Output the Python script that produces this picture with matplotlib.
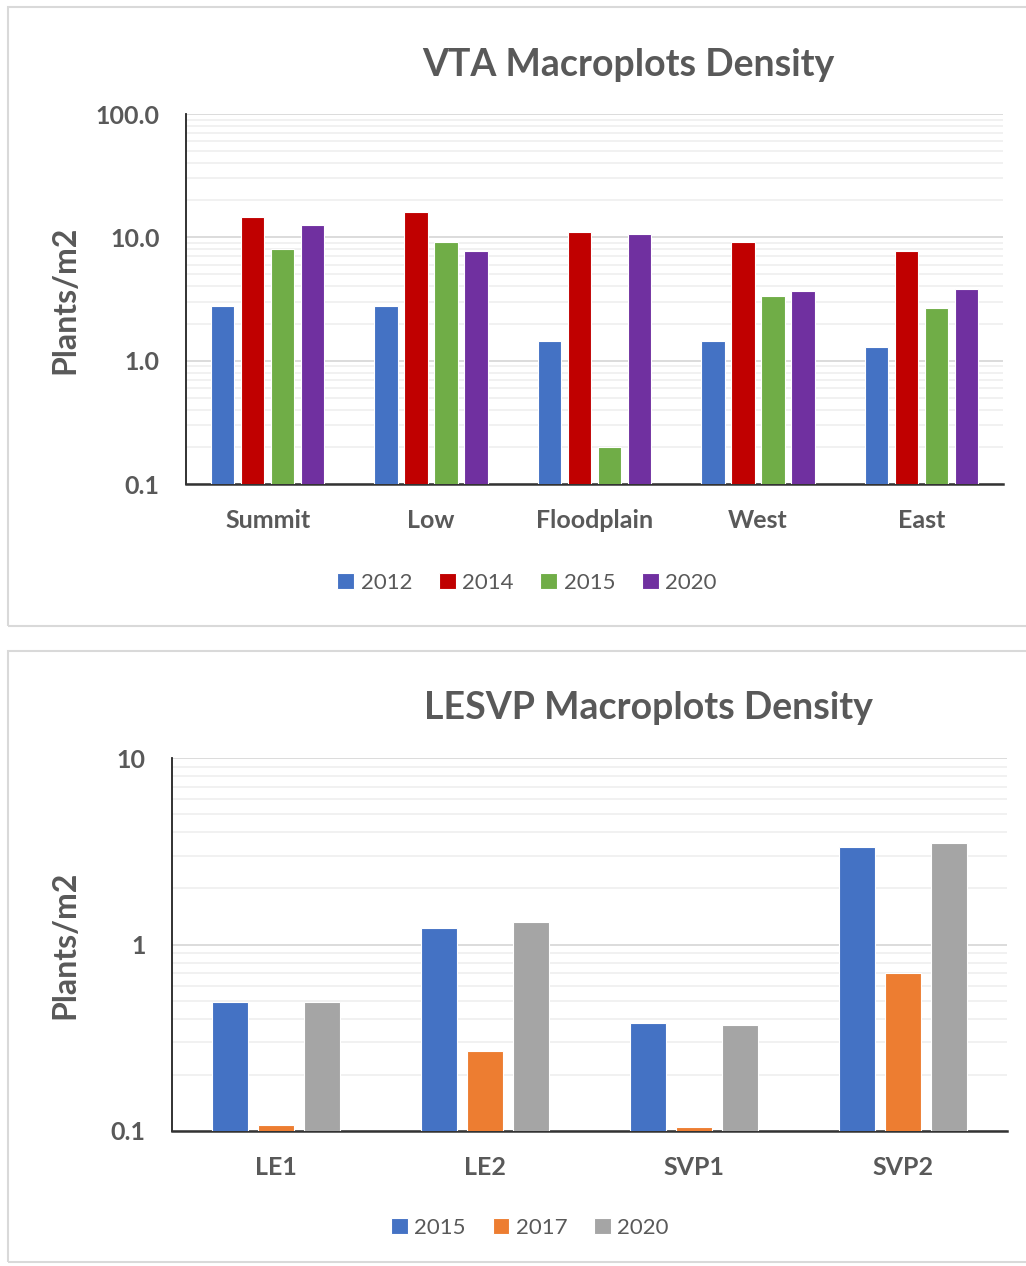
import matplotlib
matplotlib.use('Agg')
import matplotlib.pyplot as plt
import matplotlib.patches as patches
from matplotlib.ticker import FixedLocator, LogLocator, NullFormatter
import numpy as np

plt.rcParams['font.family'] = ['Lato', 'DejaVu Sans']

# VTA data
vta_sites = ['Summit', 'Low', 'Floodplain', 'West', 'East']
vta_years = ['2012', '2014', '2015', '2020']
vta_2012 = [2.8, 2.8, 1.45, 1.45, 1.3]
vta_2014 = [14.7, 16.0, 11.1, 9.1, 7.8]
vta_2015 = [8.1, 9.1, 0.2, 3.35, 2.65]
vta_2020 = [12.6, 7.8, 10.7, 3.65, 3.8]
vta_colors = ['#4472C4', '#C00000', '#70AD47', '#7030A0']

# LESVP data
les_sites = ['LE1', 'LE2', 'SVP1', 'SVP2']
les_years = ['2015', '2017', '2020']
les_2015 = [0.49, 1.23, 0.38, 3.33]
les_2017 = [0.108, 0.268, 0.105, 0.70]
les_2020 = [0.49, 1.32, 0.37, 3.5]
les_colors = ['#4472C4', '#ED7D31', '#A5A5A5']

W, H = 1026, 1266
fig = plt.figure(figsize=(W / 100, H / 100), dpi=100)
txt = '#595959'

# panel frames
for top, bottom in [(7, 626), (651, 1262)]:
    fig.patches.append(patches.Rectangle((8 / W, 1 - bottom / H), 1.2, (bottom - top) / H,
                                         transform=fig.transFigure, fill=False,
                                         edgecolor='#d9d9d9', linewidth=1.5))


def draw_panel(rect, sites, years, series, colors, step, width, ylim, ticks, ticklabels):
    ax = fig.add_axes(rect)
    n = len(series)
    x = np.arange(len(sites))
    ax.set_yscale('log')
    for i, (vals, c, yr) in enumerate(zip(series, colors, years)):
        ax.bar(x + (i - (n - 1) / 2) * step, vals, width, color=c,
               edgecolor='white', linewidth=0.8, label=yr, zorder=3)
    ax.set_ylim(*ylim)
    ax.set_xlim(-0.5, len(sites) - 0.5)
    ax.yaxis.set_major_locator(FixedLocator(ticks))
    ax.set_yticklabels(ticklabels)
    ax.yaxis.set_minor_locator(LogLocator(base=10, subs=np.arange(2, 10)))
    ax.yaxis.set_minor_formatter(NullFormatter())
    ax.grid(True, which='major', axis='y', color='#d9d9d9', linewidth=1.3, zorder=0)
    ax.grid(True, which='minor', axis='y', color='#eeeeee', linewidth=1.1, zorder=0)
    ax.set_xticks(x)
    ax.set_xticklabels(sites)
    for s in ['top', 'right']:
        ax.spines[s].set_visible(False)
    ax.spines['left'].set_color('#222222')
    ax.spines['bottom'].set_color('#333333')
    ax.spines['left'].set_linewidth(1.3)
    ax.spines['bottom'].set_linewidth(1.8)
    ax.tick_params(axis='both', which='both', length=0, colors=txt)
    ax.tick_params(axis='y', pad=19, labelsize=18)
    ax.tick_params(axis='x', pad=18, labelsize=18)
    for lab in ax.get_xticklabels() + ax.get_yticklabels():
        lab.set_fontweight('bold')
    return ax


ax1 = draw_panel([186 / W, 1 - 484 / H, 817 / W, 370 / H], vta_sites, vta_years,
                 [vta_2012, vta_2014, vta_2015, vta_2020], vta_colors,
                 0.1836, 0.142, (0.1, 100), [0.1, 1, 10, 100],
                 ['0.1', '1.0', '10.0', '100.0'])
ax2 = draw_panel([172 / W, 1 - 1131 / H, 835 / W, 373 / H], les_sites, les_years,
                 [les_2015, les_2017, les_2020], les_colors,
                 0.22, 0.172, (0.1, 10), [0.1, 1, 10],
                 ['0.1', '1', '10'])

# titles
fig.text(628 / W, 1 - 65 / H, 'VTA Macroplots Density', ha='center', va='center',
         fontsize=27, fontweight='bold', color=txt)
fig.text(648 / W, 1 - 708 / H, 'LESVP Macroplots Density', ha='center', va='center',
         fontsize=27, fontweight='bold', color=txt)

# y labels
fig.text(65 / W, 1 - 300 / H, 'Plants/m2', rotation=90, ha='center', va='center',
         fontsize=23, fontweight='bold', color=txt)
fig.text(65 / W, 1 - 945 / H, 'Plants/m2', rotation=90, ha='center', va='center',
         fontsize=23, fontweight='bold', color=txt)

# legends
for ax, cx, cy, nc in [(ax1, 527, 583, 4), (ax2, 530, 1228, 3)]:
    leg = fig.legend(*ax.get_legend_handles_labels(), loc='center',
                     bbox_to_anchor=(cx / W, 1 - cy / H), ncol=nc, frameon=False,
                     fontsize=16, handlelength=0.75, handleheight=0.75,
                     handletextpad=0.3, columnspacing=1.2)
    for t in leg.get_texts():
        t.set_color(txt)

fig.savefig('out.png', dpi=100, facecolor='white')
